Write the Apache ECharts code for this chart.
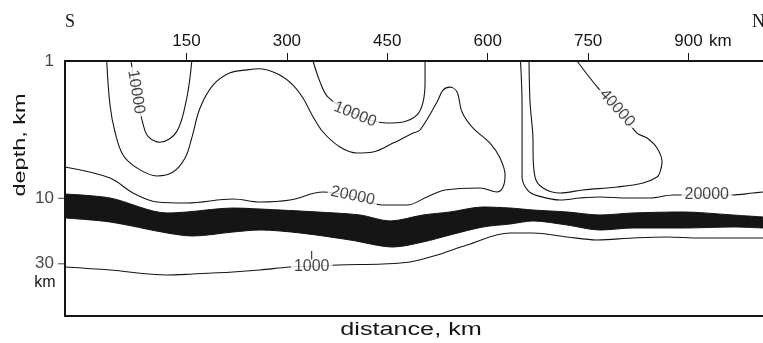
<!DOCTYPE html>
<html>
<head>
<meta charset="utf-8">
<script src="https://cdn.jsdelivr.net/npm/echarts@6/dist/echarts.min.js"></script>
<style>
  html, body { margin: 0; padding: 0; background: #fff; }
  #chart { width: 763px; height: 343px; }
</style>
</head>
<body>
<div id="chart"></div>
<script>
// Profile extent (km) and depth range (km, log scale)
const distanceMin = -31.4;
const distanceMax = 1011.2;
const depthMin = 1;
const depthMax = 72;

// Axis ticks
const distanceTicks = [150, 300, 450, 600, 750, 900];
const depthLabels = [1, 10, 30];
const depthTicks = [10, 30];

// Resistivity contours, points as [distance km, depth km]
const contourWestInner = [
  [67.2, 1.0], [74.7, 1.68], [85.6, 2.93], [93.1, 3.56], [110.5, 3.91],
  [135.5, 3.27], [150.4, 1.87], [157.9, 1.01]
];
const contourLong = [
  [-31.4, 5.92], [35.8, 7.12], [70.2, 9.15], [106.1, 10.64], [150.9, 10.82],
  [219.6, 10.12], [259.9, 10.64], [304.7, 10.29], [354.0, 9.0], [398.4, 9.7],
  [443.6, 11.19], [479.5, 11.19], [509.4, 9.78], [536.2, 8.70], [588.5, 8.41],
  [613.9, 9.0], [622.9, 8.28], [625.9, 6.77], [618.4, 5.09], [603.5, 3.96],
  [578.1, 3.08], [561.6, 2.35], [554.2, 1.68], [543.7, 1.55], [533.3, 1.63],
  [524.3, 1.99], [498.9, 3.18], [488.4, 3.35], [458.6, 3.96], [428.7, 4.60],
  [404.8, 4.68], [379.4, 4.23], [354.0, 3.29], [337.6, 2.47], [324.1, 1.86],
  [309.2, 1.50], [289.8, 1.27], [259.9, 1.14], [240.5, 1.16], [215.1, 1.22],
  [189.7, 1.50], [170.3, 2.20], [158.3, 3.58], [147.9, 5.09], [130.0, 6.44],
  [106.1, 6.88], [76.2, 6.02], [55.3, 4.84], [43.3, 3.29], [35.8, 2.09],
  [30.9, 1.0]
];
const contourCentral = [
  [339.1, 1.0], [349.5, 1.42], [361.5, 1.83], [401.8, 2.45], [449.6, 2.83],
  [473.5, 2.78], [494.4, 2.47], [503.4, 1.99], [506.4, 1.42], [506.4, 1.0]
];
const contourEast20000 = [
  [649.0, 1.0], [651.3, 2.09], [651.3, 3.89], [651.3, 7.0], [660.2, 8.8],
  [675.0, 9.6], [708.0, 10.29], [737.9, 9.95], [767.8, 9.78], [808.1, 9.95],
  [842.4, 9.95], [876.8, 9.46], [927.2, 9.46], [966.0, 9.46], [996.1, 9.15],
  [1011.2, 9.0]
];
const contourEast40000 = [
  [733.4, 1.0], [764.8, 1.57], [793.2, 2.20], [823.0, 3.35], [838.0, 3.64],
  [852.9, 4.30], [860.4, 5.44], [857.4, 6.44], [852.9, 7.0], [832.0, 7.74],
  [793.2, 8.28], [742.4, 8.70], [708.0, 9.15], [682.6, 8.41], [670.7, 7.0],
  [667.7, 4.45], [667.7, 3.89], [663.2, 1.99], [661.7, 1.0]
];
const contourDeep1000 = [
  [-31.4, 31.64], [35.8, 33.28], [121.0, 36.19], [159.8, 35.59], [219.6, 34.42],
  [259.9, 33.28], [304.7, 31.64], [337.1, 31.3], [376.4, 30.60], [443.6, 30.09],
  [484.0, 29.10], [524.3, 25.88], [569.1, 21.88], [633.3, 17.89], [667.7, 17.89],
  [718.5, 19.13], [763.3, 20.12], [817.1, 19.46], [867.8, 19.13], [917.2, 19.46],
  [1011.2, 19.46]
];
const markNear1000 = [[337.1, 24.2], [337.1, 27.9]];

// Conductive layer: upper and lower boundaries
const layerTop = [
  [-31.4, 9.31], [35.8, 9.95], [121.0, 12.79], [150.9, 12.58], [219.6, 11.77],
  [259.9, 11.97], [345.1, 12.58], [409.3, 13.23], [454.1, 14.63], [503.4, 13.23],
  [543.7, 12.58], [593.0, 11.57], [633.3, 11.77], [667.7, 12.17], [718.5, 12.58],
  [767.8, 13.23], [817.1, 12.79], [891.7, 12.58], [966.0, 13.23], [1011.2, 13.68]
];
const layerBottom = [
  [-31.4, 13.91], [35.8, 14.88], [121.0, 17.89], [159.8, 18.82], [219.6, 17.60],
  [259.9, 17.02], [319.7, 17.89], [394.3, 20.12], [458.6, 22.63], [503.4, 20.81],
  [543.7, 18.50], [593.0, 16.18], [633.3, 15.39], [667.7, 14.63], [718.5, 15.65],
  [767.8, 17.02], [817.1, 16.46], [891.7, 16.46], [966.0, 16.18], [1011.2, 16.46]
];

// Contour value labels and where they sit on their lines
const contourLabelTexts = ['10000', '10000', '20000', '40000', '20000', '1000'];
const contourLabelAnchors = [
  [74.7, 1.68], [401.8, 2.45], [398.4, 9.6], [793.2, 2.20], [927.2, 9.46], [337.1, 31.3]
];
const contourLabelAngles = [-81, -22, -12, -48, 0, 0];

const INK = '#151515';
const FONT = '"Liberation Sans", Arial, sans-serif';
const SERIF = '"Liberation Serif", "Times New Roman", serif';

function contourLine(name, data) {
  return {
    name, type: 'line', data, smooth: 0.35, symbol: 'none', z: 3,
    lineStyle: { color: INK, width: 1.1 }, silent: true, animation: false
  };
}

const chart = echarts.init(document.getElementById('chart'), null, { renderer: 'canvas' });

chart.setOption({
  animation: false,
  backgroundColor: '#fff',
  grid: { left: 65, right: 0, top: 61, bottom: 27, containLabel: false },
  xAxis: [
    {
      type: 'value', position: 'top', min: distanceMin, max: distanceMax, z: 10,
      axisLine: { show: true, onZero: false, lineStyle: { color: INK, width: 2 } },
      axisTick: { show: true, customValues: distanceTicks, length: 8, lineStyle: { color: INK, width: 1 } },
      axisLabel: { show: true, customValues: distanceTicks, color: INK, fontSize: 17, fontFamily: FONT, margin: 11,
        formatter: v => String(v) },
      splitLine: { show: false }
    },
    {
      type: 'value', position: 'bottom', min: distanceMin, max: distanceMax, z: 10,
      axisLine: { show: true, onZero: false, lineStyle: { color: INK, width: 2 } },
      axisTick: { show: false }, axisLabel: { show: false }, splitLine: { show: false }
    }
  ],
  yAxis: {
    type: 'log', logBase: 10, min: depthMin, max: depthMax, inverse: true, z: 10,
    axisLine: { show: true, onZero: false, lineStyle: { color: INK, width: 2 } },
    axisTick: { show: false }, axisLabel: { show: false }, splitLine: { show: false },
    minorTick: { show: false }
  },
  series: [
    // conductive layer: fill down from its top, then blank below its base
    {
      name: 'layerTop', type: 'line', data: layerTop, smooth: 0.3, symbol: 'none', z: 1,
      lineStyle: { color: INK, width: 1 }, areaStyle: { color: INK, opacity: 1, origin: 'end' }
    },
    {
      name: 'layerBottom', type: 'line', data: layerBottom, smooth: 0.3, symbol: 'none', z: 2,
      lineStyle: { color: INK, width: 1 }, areaStyle: { color: '#fff', opacity: 1, origin: 'end' }
    },
    contourLine('westInner', contourWestInner),
    contourLine('long', contourLong),
    contourLine('central', contourCentral),
    contourLine('east20000', contourEast20000),
    contourLine('east40000', contourEast40000),
    contourLine('deep1000', contourDeep1000),
    {
      name: 'contourLabels', type: 'scatter', z: 5, symbolSize: 0, clip: false, silent: true,
      data: contourLabelAnchors.map((p, i) => ({
        value: p,
        label: {
          show: true, position: 'inside', formatter: contourLabelTexts[i], rotate: contourLabelAngles[i],
          color: INK, fontSize: 16, fontFamily: FONT, backgroundColor: '#fff', padding: [0, 3]
        }
      }))
    },
    {
      name: 'mark1000', type: 'line', data: markNear1000, symbol: 'none', z: 6,
      lineStyle: { color: INK, width: 1 }
    },
    // depth ticks and labels on the left frame
    {
      name: 'depthTicks', type: 'scatter', z: 10, clip: false, silent: true,
      data: depthTicks.map(d => [distanceMin, d]),
      symbol: 'rect', symbolSize: [7, 1], symbolOffset: [-3.5, 0], itemStyle: { color: INK }
    },
    {
      name: 'depthLabels', type: 'scatter', z: 10, clip: false, silent: true, symbolSize: 0,
      data: depthLabels.map(d => [distanceMin, d]),
      label: { show: true, position: 'left', distance: 11, color: INK, fontSize: 17, fontFamily: FONT,
        formatter: p => String(p.value[1]) }
    }
  ],
  graphic: [
    { type: 'text', x: 709, y: 41, style: { text: 'km', fill: INK, fontSize: 17, fontFamily: FONT, align: 'left', verticalAlign: 'middle' } },
    { type: 'text', x: 45, y: 283, style: { text: 'km', fill: INK, fontSize: 16, fontFamily: FONT, align: 'center', verticalAlign: 'middle' } },
    { type: 'text', x: 65, y: 22, style: { text: 'S', fill: INK, fontSize: 18, fontFamily: SERIF, align: 'left', verticalAlign: 'middle' } },
    { type: 'text', x: 752, y: 22, style: { text: 'N', fill: INK, fontSize: 18, fontFamily: SERIF, align: 'left', verticalAlign: 'middle' } },
    { type: 'text', x: 20, y: 145, rotation: Math.PI / 2, scaleX: 1.38,
      style: { text: 'depth, km', fill: INK, fontSize: 17, fontFamily: FONT, align: 'center', verticalAlign: 'middle' } },
    { type: 'text', x: 411, y: 330, scaleX: 1.4,
      style: { text: 'distance, km', fill: INK, fontSize: 18, fontFamily: FONT, align: 'center', verticalAlign: 'middle' } }
  ]
});
</script>
</body>
</html>
